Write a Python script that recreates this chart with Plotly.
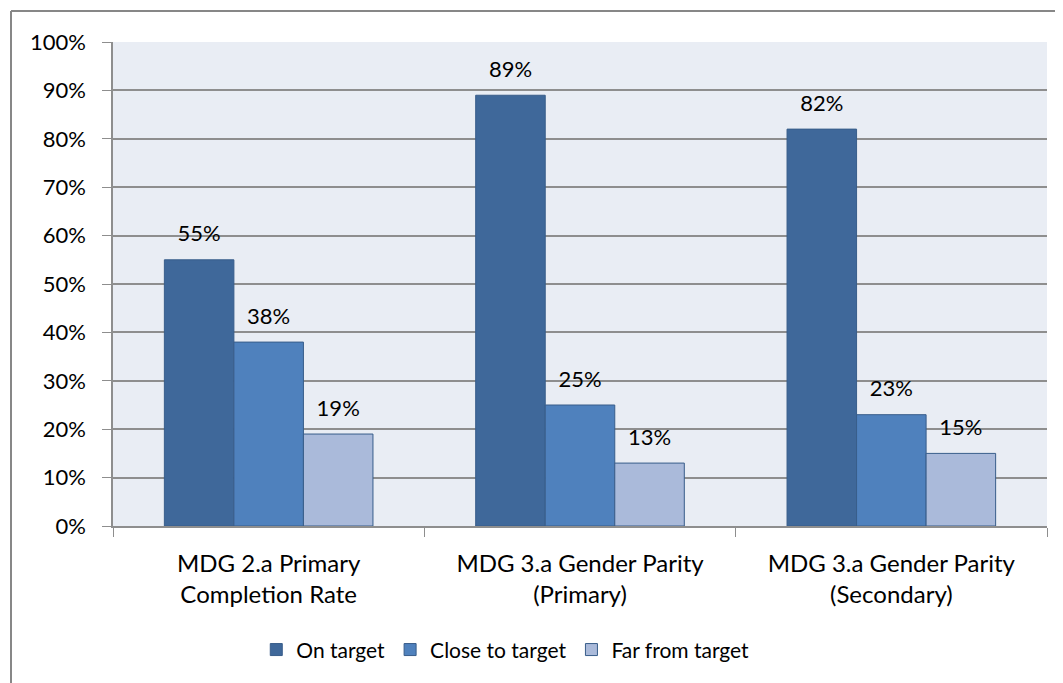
import plotly.graph_objects as go

categories = ["MDG 2.a Primary<br>Completion Rate",
              "MDG 3.a Gender Parity<br>(Primary)",
              "MDG 3.a Gender Parity<br>(Secondary)"]
series_names = ["On target", "Close to target", "Far from target"]
on_target = [55, 89, 82]
close_to_target = [38, 25, 23]
far_from_target = [19, 13, 15]
y_ticks = [0, 10, 20, 30, 40, 50, 60, 70, 80, 90, 100]

colors = ["#3F689A", "#4F81BD", "#AABADA"]
FONT = "Lato"

fig = go.Figure()

all_series = [on_target, close_to_target, far_from_target]

for i, (name, vals) in enumerate(zip(series_names, all_series)):
    fig.add_trace(go.Bar(
        x=categories,
        y=vals,
        name=name,
        offsetgroup=str(i),
        marker=dict(color=colors[i], line=dict(color="#385D8A", width=1)),
    ))

# value labels, grouped the same way as the bars; an invisible marker lifts the text
for i, vals in enumerate(all_series):
    fig.add_trace(go.Scatter(
        x=categories,
        y=vals,
        mode="markers+text",
        marker=dict(size=19, color="rgba(0,0,0,0)"),
        text=[f"{v}%" for v in vals],
        textposition="top center",
        textfont=dict(size=22, color="black", family=FONT),
        offsetgroup=str(i),
        showlegend=False,
        hoverinfo="skip",
        cliponaxis=False,
    ))

# the page body has an 8px margin, so the figure is sized to fit the window
fig.update_layout(
    barmode="group",
    scattermode="group",
    bargap=0.33,
    bargroupgap=0,
    width=1055,
    height=675,
    margin=dict(l=105, r=16, t=34, b=157),
    paper_bgcolor="white",
    plot_bgcolor="#E9EDF4",
    font=dict(family=FONT, size=22, color="black"),
    showlegend=True,
    legend=dict(orientation="h", x=0.42, xanchor="center", y=-0.256, yanchor="middle",
                font=dict(size=21), itemwidth=30, tracegroupgap=0),
)

fig.update_yaxes(
    range=[0, 100],
    tickvals=y_ticks,
    ticktext=[f"{t}%" for t in y_ticks],
    tickfont=dict(size=22),
    showgrid=True, gridcolor="#8E8E8E", gridwidth=1.5,
    showline=True, linecolor="#8E8E8E", linewidth=1.5,
    ticks="outside", ticklen=9, tickcolor="#8E8E8E",
    ticklabelstandoff=12,
    zeroline=False,
)
fig.update_xaxes(
    tickfont=dict(size=24),
    showline=True, linecolor="#8E8E8E", linewidth=1.5,
    ticks="outside", ticklen=9, tickcolor="#8E8E8E",
    tickson="boundaries",
    ticklabelstandoff=15,
)

# outer chart border (only its top and left edges fall inside the picture)
fig.add_shape(type="line", xref="paper", yref="paper", x0=-0.1092, x1=1.1, y0=1.064, y1=1.064,
              line=dict(color="#878787", width=2))
fig.add_shape(type="line", xref="paper", yref="paper", x0=-0.1092, x1=-0.1092, y0=-0.4, y1=1.064,
              line=dict(color="#878787", width=2))

fig.write_html("out.html")
